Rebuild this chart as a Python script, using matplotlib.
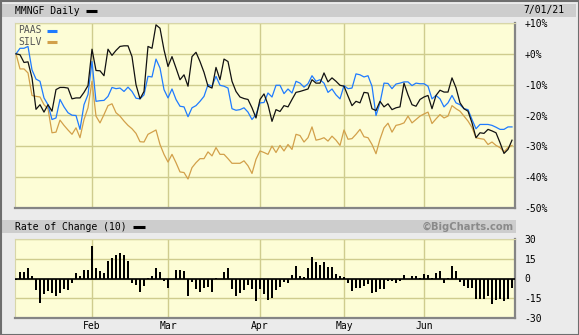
import numpy as np
import matplotlib.pyplot as plt
from matplotlib.patches import Rectangle
from matplotlib.lines import Line2D

# trading days Jan 4 2021 .. Jul 1 2021, percent change from first close
mmngf = [0, -0.3, -2.8, -2.6, -7.8, -18, -16.5, -18.9, -16.5, -18.6,
         -11.6, -10.9, -10.9, -11.1, -14.6, -14.3, -14.3, -12.5, -10.3, 1.5,
         -5.4, -5.5, -7.1, 1.5, -0.5, 1.1, 2.4, 2.6, 2.6, -0.9,
         -10, -14.6, -12.2, 2.4, 1.8, 9.4, 8.3, 1.3, -4.1, -0.9,
         -4.6, -8.4, -6.8, -10.5, -0.9, 0.5, -2.5, -6, -10.5, -11.1,
         -4.4, -8.4, -1.7, -2.5, -8.9, -12.2, -14, -14.5, -14.8, -17.5,
         -20.8, -14.8, -13, -16.5, -21.9, -18.1, -18.7, -16.8, -17.2, -14.8,
         -12.5, -12.2, -11.8, -11.4, -8.4, -9.5, -9.5, -6.2, -9.1, -7.8,
         -8.9, -10.2, -10.5, -13.7, -16.8, -15.4, -15.9, -12.5, -12.7, -17.8,
         -18.4, -15.4, -17.2, -16.2, -18.1, -17.5, -17.2, -9.5, -13.3, -16.5,
         -17, -14.8, -14, -13.5, -17.8, -13.5, -11.8, -12.4, -12.4, -7.8,
         -11, -15.9, -17.8, -18.6, -22.4, -27.2, -25.6, -25.8, -24.5, -25,
         -25.6, -28.8, -32.3, -31, -28]
paas = [0, 1.8, 1.8, 2.4, -5.2, -8.2, -8.9, -14.3, -16.5, -21.3,
        -20.8, -14.8, -17.2, -19.1, -19.9, -20, -24.5, -16.5, -13.2, -2.5,
        -15.4, -15.2, -15.1, -13.8, -10.9, -11.3, -11.1, -12.2, -10.8, -12.2,
        -14.4, -14.6, -13.3, -7.3, -7.5, -1.7, -4.6, -11.6, -14.3, -11.4,
        -14.8, -17, -17.2, -20.4, -17.5, -16.8, -15.4, -13.8, -10, -10.5,
        -7.3, -10.2, -10.5, -11.1, -17.8, -18.3, -18.1, -17.5, -18.9, -21.3,
        -19.7, -15.9, -15.8, -12.7, -14, -10.2, -10.2, -12.9, -11.4, -12.7,
        -8.9, -9.5, -10.8, -9.7, -7.1, -8.9, -8.4, -9.5, -12.5, -11.4,
        -13.3, -14.6, -10.3, -11.3, -11.1, -6.5, -6.8, -7.5, -7.1, -10.5,
        -20, -15.9, -9.5, -9.6, -11.3, -9.8, -9.5, -9.1, -9.1, -10.3,
        -9.5, -9.7, -9.7, -10.5, -14.6, -13.5, -14.6, -17.2, -15.9, -13.5,
        -15.9, -16.5, -17.8, -18.1, -21.3, -24.3, -22.9, -22.9, -22.9, -23.2,
        -23.8, -24.5, -24.5, -23.7, -23.7]
silv = [0, -4.9, -4.9, -6.2, -13.5, -13.8, -14, -16.5, -17.8, -25.6,
        -25.4, -21.5, -23.2, -24.7, -26.1, -24, -27.2, -21.3, -17.5, -8.9,
        -20.2, -22.4, -19.7, -16.8, -16.2, -19.1, -20.2, -21.8, -23.2, -24.3,
        -25.8, -28.5, -28.6, -26.1, -25.4, -24.7, -29.4, -32.6, -35.1, -32.6,
        -35.3, -38.3, -38.5, -40.6, -36.9, -35.3, -34, -34, -31.8, -33.1,
        -30.4, -32.6, -32.6, -34, -35.5, -35.5, -35.5, -34.7, -36.3, -38.8,
        -34.2, -31.5, -32, -32.6, -29.9, -32, -29.7, -31.5, -29.4, -31,
        -26.1, -26.5, -28.6, -27.2, -23.7, -28, -27.7, -27.2, -28.3, -26.7,
        -28, -29.7, -24.7, -27.7, -27.5, -26.1, -24.5, -26.9, -27.2, -29.4,
        -32.4, -27.7, -24, -22.5, -25.4, -23.2, -22.9, -22.4, -20.2, -22.4,
        -21.3, -20.2, -19.5, -18.9, -22.6, -21.1, -19.7, -20.8, -20.2, -16.8,
        -17.8, -18.6, -20.2, -21.8, -23.9, -27.2, -27.5, -27.7, -29.4, -28.6,
        -29.7, -30.4, -31.8, -30.4, -29.7]
roc10 = [-1.3, 5, 5, 7.6, 1.8, -9.1, -18.3, -12, -9.4, -11.2,
         -13.3, -11.2, -8.1, -9.1, -3.4, 4.4, 1.8, 6.5, 6.5, 24.8,
         7.6, 6, 4.4, 13.6, 15.9, 17.5, 19.3, 17.5, 13.6, -3.4,
         -5.2, -9.9, -6, 0.5, 1.8, 7.6, 5, -2.1, -7.3, 0,
         6.5, 6.5, 6, -13, -2.9, -8.1, -10.4, -7.3, -6.5, -10.4,
         0.2, 0, 5, 8.1, -8.1, -13, -11.2, -9.1, -5.2, -8.1,
         -17.2, -7.8, -12, -16.4, -15.1, -8.6, -6.5, -2.6, -3.4, 2.6,
         9.7, 1.8, 1, 8.1, 16.7, 12.3, 10.4, 12.3, 8.9, 8.4,
         3.4, 1.8, 1.3, -3.4, -9.4, -7.3, -7.3, -6, -3.9, -11.2,
         -10.4, -7.8, -7.8, -1.6, -1.6, -3.4, -1.6, 2.6, 0, 1.8,
         1.8, 0.5, 3.4, 2.6, 0.3, 3.9, 6, -3.4, 0.5, 9.7,
         6, -2.6, -6, -7.3, -7.3, -15.9, -15.9, -15.9, -13, -19.1,
         -16.4, -15.9, -17.2, -15.9, -7.3]

month_labels = ["Feb", "Mar", "Apr", "May", "Jun"]
month_idx = [19, 38, 61, 82, 102]
pct_ticks = [10, 0, -10, -20, -30, -40, -50]
roc_ticks = [30, 15, 0, -15, -30]

W, H = 579, 335
MONO = "DejaVu Sans Mono"
BG = "#ebebeb"
PLOT_BG = "#fdfdd6"
GRID = "#cfcc8e"
BLUE = "#1f7bff"
GOLD = "#d2a04a"

def box(x, y, w, h):
    return [x / W, 1 - (y + h) / H, w / W, h / H]

def px2fig(x, y):
    return x / W, 1 - y / H

fig = plt.figure(figsize=(W / 100, H / 100), dpi=100)
fig.patch.set_facecolor(BG)

# header bands
fig.patches.append(Rectangle(px2fig(2, 17), 574 / W, 13 / H, transform=fig.transFigure,
                             facecolor="#cdcdcd", edgecolor="none", zorder=0))
fig.patches.append(Rectangle(px2fig(2, 233), 514 / W, 13 / H, transform=fig.transFigure,
                             facecolor="#cdcdcd", edgecolor="none", zorder=0))
fig.patches.append(Rectangle((0.5 / W, 0.5 / H), 1 - 1 / W, 1 - 1 / H, transform=fig.transFigure,
                             facecolor="none", edgecolor="#6e6e6e", lw=1.5, zorder=5))

x = np.arange(len(mmngf))

# main panel
ax = fig.add_axes(box(15, 23, 500, 185))
ax.set_facecolor(PLOT_BG)
ax.plot(x, silv, color=GOLD, lw=0.9, zorder=3)
ax.plot(x, paas, color=BLUE, lw=0.9, zorder=4)
ax.plot(x, mmngf, color="#111111", lw=0.9, zorder=5)
ax.set_xlim(-0.25, 124.75)
ax.set_ylim(-50, 10)
ax.set_xticks(month_idx)
ax.set_xticklabels([])
ax.set_yticks(pct_ticks)
ax.set_yticklabels([("+%d%%" % t) if t >= 0 else ("%d%%" % t) for t in pct_ticks],
                   family=MONO, fontsize=7)
ax.tick_params(axis="y", left=False, labelleft=False, right=False, labelright=True,
               length=0, pad=7)
ax.tick_params(axis="x", length=0)
ax.grid(True, color=GRID, lw=1.0)
ax.set_axisbelow(True)
for s in ("left", "top"):
    ax.spines[s].set_color("#d8d6a8")
    ax.spines[s].set_linewidth(0.8)
for s in ("right", "bottom"):
    ax.spines[s].set_color("#858585")
    ax.spines[s].set_linewidth(1.6)

# legend
fig.text(*px2fig(18, 30), "PAAS", family=MONO, fontsize=7, color="#555555", va="center")
fig.text(*px2fig(18, 42), "SILV", family=MONO, fontsize=7, color="#555555", va="center")
for yy, c in ((31, BLUE), (42, GOLD)):
    fig.lines.append(Line2D([47 / W, 57 / W], [1 - yy / H] * 2, transform=fig.transFigure,
                            color=c, lw=2.2, solid_capstyle="butt"))

# ROC panel
ax2 = fig.add_axes(box(15, 239, 500, 79))
ax2.set_facecolor(PLOT_BG)
ax2.bar(x, roc10, width=0.3, color="black", zorder=3)
ax2.axhline(0, color="black", lw=1.2, zorder=4)
ax2.set_xlim(-0.25, 124.75)
ax2.set_ylim(-30, 30)
ax2.set_yticks(roc_ticks)
ax2.set_yticklabels([str(t) for t in roc_ticks], family=MONO, fontsize=7)
ax2.tick_params(axis="y", left=False, labelleft=False, right=False, labelright=True,
                length=0, pad=7)
ax2.set_xticks(month_idx)
ax2.set_xticklabels(month_labels, family=MONO, fontsize=7)
ax2.tick_params(axis="x", length=0, pad=2)
ax2.grid(True, color=GRID, lw=1.0)
ax2.set_axisbelow(True)
for s in ("left", "top"):
    ax2.spines[s].set_color("#d8d6a8")
    ax2.spines[s].set_linewidth(0.8)
for s in ("right", "bottom"):
    ax2.spines[s].set_color("#858585")
    ax2.spines[s].set_linewidth(1.6)

# header texts
fig.text(*px2fig(15, 10.5), "MMNGF Daily", family=MONO, fontsize=7, va="center")
fig.lines.append(Line2D([86 / W, 97 / W], [1 - 10.5 / H] * 2, transform=fig.transFigure,
                        color="black", lw=2.2, solid_capstyle="butt"))
fig.text(*px2fig(523, 10.5), "7/01/21", family=MONO, fontsize=7, va="center")
fig.text(*px2fig(15, 226.5), "Rate of Change (10)", family=MONO, fontsize=7, va="center")
fig.lines.append(Line2D([133 / W, 145 / W], [1 - 226.5 / H] * 2, transform=fig.transFigure,
                        color="black", lw=2.2, solid_capstyle="butt"))
fig.text(*px2fig(514, 226.5), "\u00a9BigCharts.com", fontsize=7.2, fontweight="bold",
         color="#8a8a8a", ha="right", va="center")

fig.savefig("out.png", dpi=100, facecolor=fig.get_facecolor())
